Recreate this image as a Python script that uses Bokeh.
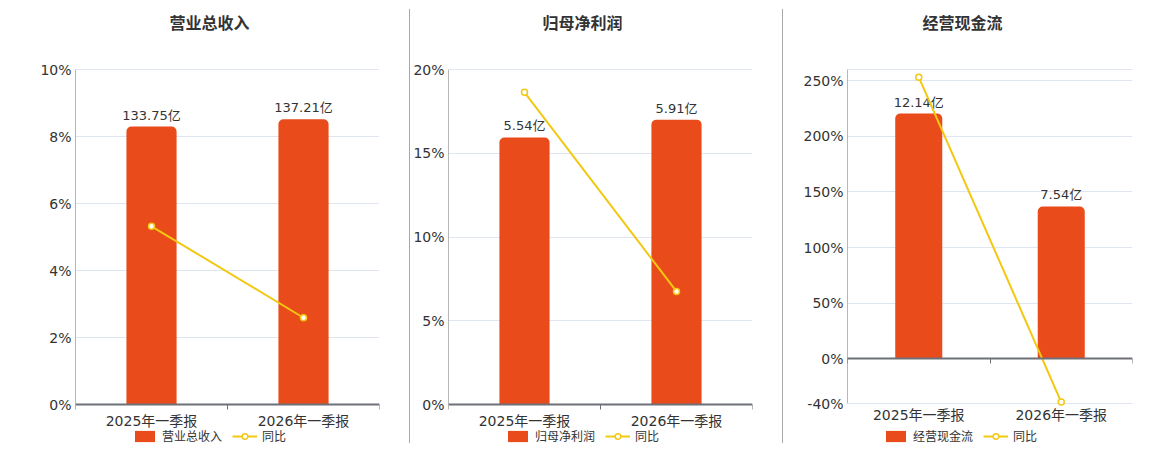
from bokeh.plotting import figure
from bokeh.layouts import row
from bokeh.models import (Range1d, LinearAxis, FixedTicker, Label,
                          CustomJSTickFormatter, Legend, LegendItem, Div)
from bokeh.embed import file_html
from bokeh.resources import INLINE

# ---- data ----
categories = ["2025年一季报", "2026年一季报"]

titles = ["营业总收入", "归母净利润", "经营现金流"]

revenue = [133.75, 137.21]
revenue_yoy = [5.32, 2.59]

profit = [5.54, 5.91]
profit_yoy = [18.64, 6.75]

cashflow = [12.14, 7.54]
cashflow_yoy = [253.1, -38.7]

revenue_ticks = [0, 2, 4, 6, 8, 10]
profit_ticks = [0, 5, 10, 15, 20]
cashflow_ticks = [-40, 0, 50, 100, 150, 200, 250, 260]
cashflow_hidden = [260]

# ---- style ----
BAR = "#e94b1b"
LINE = "#f2c811"
AXIS = "#6e7079"
GRID = "#e0e6f1"
TXT = "#333333"
FONT = "DejaVu Sans, Noto Sans CJK SC"

FRAME_H = 436      # frame covers title, plot area, x labels and legend
PAD_TOP = 61       # px between frame top and plot-area top


def extend(lo, hi, plot_h, pad_top, pad_bot):
    ppu = plot_h / (hi - lo)
    return (lo - pad_bot / ppu, hi + pad_top / ppu)


def make_panel(title, values, yoy, yticks, hidden, yrange, bar_range, left, frame_w,
               right, plot_h, title_x, legend_x, zero_axis):
    n = len(categories)
    xs = [i + 0.5 for i in range(n)]
    bounds = [i for i in range(n + 1)]
    pad_bot = FRAME_H - PAD_TOP - plot_h
    lo, hi = yrange
    p = figure(x_range=Range1d(0, n),
               y_range=Range1d(*extend(lo, hi, plot_h, PAD_TOP, pad_bot)),
               frame_width=frame_w, frame_height=FRAME_H,
               min_border_left=left, min_border_right=right,
               min_border_top=8, min_border_bottom=0,
               toolbar_location=None, output_backend="svg",
               x_axis_location=None)
    p.outline_line_color = None
    p.background_fill_color = "white"
    p.border_fill_color = "white"
    p.title.visible = False
    for g in p.xgrid:
        g.visible = False

    p.extra_y_ranges = {"bar": Range1d(*extend(bar_range[0], bar_range[1],
                                                plot_h, PAD_TOP, pad_bot))}

    # y axis (labels only; its line is drawn over the plot area below)
    yax = p.yaxis[0]
    yax.ticker = FixedTicker(ticks=yticks)
    yax.formatter = CustomJSTickFormatter(
        args=dict(hidden=hidden),
        code="return hidden.includes(tick) ? '' : tick + '%';")
    yax.major_tick_line_color = None
    yax.major_tick_out = 0
    yax.major_tick_in = 0
    yax.minor_tick_line_color = None
    yax.minor_tick_out = 0
    yax.minor_tick_in = 0
    yax.axis_line_color = None
    yax.major_label_text_font = FONT
    yax.major_label_text_font_size = "14px"
    yax.major_label_text_color = TXT
    yax.major_label_standoff = 4

    p.ygrid.grid_line_color = GRID
    p.ygrid.grid_line_width = 1

    p.segment(x0=[bounds[0]], y0=[lo], x1=[bounds[0]], y1=[hi],
              line_color=AXIS, line_width=1)

    # x axis with category labels
    lab_ax = LinearAxis(fixed_location=lo,
                        ticker=FixedTicker(ticks=xs, minor_ticks=bounds),
                        formatter=CustomJSTickFormatter(
                            args=dict(labels=categories),
                            code="return labels[Math.floor(tick)];"),
                        major_tick_line_color=None, major_tick_out=0, major_tick_in=0,
                        major_label_text_font=FONT, major_label_text_font_size="14px",
                        major_label_text_color=TXT, major_label_standoff=3)
    if zero_axis:
        lab_ax.axis_line_color = None
        lab_ax.minor_tick_line_color = None
        lab_ax.minor_tick_out = 0
        lab_ax.minor_tick_in = 0
        zax = LinearAxis(fixed_location=0,
                         ticker=FixedTicker(ticks=xs, minor_ticks=bounds),
                         formatter=CustomJSTickFormatter(code="return '';"),
                         major_tick_line_color=None,
                         major_tick_out=0, major_tick_in=0,
                         axis_line_color=AXIS, axis_line_width=2,
                         minor_tick_line_color=AXIS, minor_tick_line_width=1,
                         minor_tick_in=0, minor_tick_out=5)
        p.add_layout(zax, "below")
    else:
        lab_ax.axis_line_color = AXIS
        lab_ax.axis_line_width = 2
        lab_ax.minor_tick_line_color = AXIS
        lab_ax.minor_tick_in = 0
        lab_ax.minor_tick_out = 5
    p.add_layout(lab_ax, "below")

    bars = p.vbar(x=xs, top=values, bottom=0, width=0.33, y_range_name="bar",
                  fill_color=BAR, line_color=None, border_radius=(5, 5, 0, 0))
    p.text(x=xs, y=values, text=[f"{v:.2f}亿" for v in values],
           y_range_name="bar", text_align="center", text_baseline="bottom",
           y_offset=-4, text_font_size="13px", text_color=TXT,
           text_font={"value": FONT})
    ln = p.line(xs, yoy, line_color=LINE, line_width=2)
    sc = p.scatter(xs, yoy, size=6, fill_color="white", line_color=LINE, line_width=1.5)

    p.add_layout(Label(x=title_x, y=FRAME_H - 15, x_units="screen", y_units="screen",
                       text=title, text_align="center", text_baseline="middle",
                       text_font=FONT, text_font_size="16px",
                       text_font_style="bold", text_color=TXT))

    legend = Legend(items=[LegendItem(label=title, renderers=[bars]),
                           LegendItem(label="同比", renderers=[ln, sc])],
                    orientation="horizontal", location=(legend_x, 0),
                    glyph_width=25, glyph_height=14, label_height=14,
                    label_text_font=FONT, label_text_font_size="12px",
                    label_text_color=TXT, label_standoff=5, spacing=10,
                    padding=0, margin=0, border_line_alpha=0,
                    background_fill_alpha=0)
    p.add_layout(legend, "center")
    return p


p1 = make_panel(titles[0], revenue, revenue_yoy, revenue_ticks, [], (0, 10), (0, 161.2),
                75, 304, 30, 335, 134, 57, False)
p2 = make_panel(titles[1], profit, profit_yoy, profit_ticks, [], (0, 20), (0, 6.95),
                35, 304, 30, 335, 134, 57, False)
p3 = make_panel(titles[2], cashflow, cashflow_yoy, cashflow_ticks, cashflow_hidden,
                (-40, 260), (-2.21, 14.32),
                64, 285, 22, 334, 115, 36, True)


def sep():
    return Div(text="", width=1, height=434, margin=(9, 0, 0, 0),
               styles={"background-color": "#a8a8a8"})


layout = row(p1, sep(), p2, sep(), p3, spacing=0)
open("out.html", "w").write(file_html(layout, INLINE))
